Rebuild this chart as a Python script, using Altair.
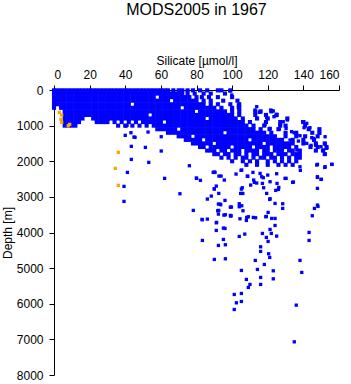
import altair as alt
import pandas as pd

# ---- tick values ----
x_ticks = [0, 20, 40, 60, 80, 100, 120, 140, 160]
y_ticks = [0, 1000, 2000, 3000, 4000, 5000, 6000, 7000, 8000]

# ---- dense cloud, read row by row (depth m -> silicate values) ----
dense_depth = [10, 100, 200, 300, 400, 500, 600, 700, 800, 900,
               1000, 1100, 1200, 1300, 1400, 1500, 1600, 1700, 1800, 1900, 2000, 2100]
dense_si = [
    [0, 2, 4, 6, 8, 10, 12, 14, 16, 18, 20, 22, 24, 26, 28, 30, 32, 34, 36, 38, 40, 42, 44, 46, 48, 50, 52, 54, 56, 58, 60, 62, 64, 67, 70, 72, 75, 78, 82, 86, 92, 94, 99],
    [0, 2, 4, 6, 8, 10, 12, 14, 16, 18, 20, 22, 24, 26, 28, 30, 32, 34, 36, 38, 40, 42, 44, 46, 48, 50, 52, 54, 56, 58, 60, 62, 64, 66, 68, 70, 72, 75, 79, 84, 88, 96],
    [0, 2, 4, 6, 8, 10, 12, 14, 16, 18, 20, 22, 24, 26, 28, 30, 32, 34, 36, 38, 40, 42, 44, 46, 48, 50, 52, 54, 56, 60, 62, 64, 66, 68, 70, 72, 74, 76, 80, 83, 87, 92, 100],
    [0, 2, 4, 6, 8, 10, 12, 14, 16, 18, 20, 22, 24, 26, 28, 30, 32, 34, 36, 38, 40, 42, 44, 46, 48, 50, 52, 54, 56, 58, 60, 62, 64, 68, 70, 72, 74, 76, 78, 80, 84, 88, 95, 103],
    [0, 2, 4, 6, 8, 10, 12, 14, 16, 18, 20, 22, 24, 26, 28, 30, 32, 34, 36, 38, 40, 42, 46, 48, 50, 52, 54, 56, 58, 60, 62, 64, 66, 68, 70, 72, 74, 76, 78, 80, 82, 84, 88, 92, 99, 104],
    [0, 4, 6, 8, 10, 12, 14, 16, 18, 20, 22, 24, 26, 28, 30, 32, 34, 36, 38, 40, 42, 44, 46, 48, 50, 52, 54, 56, 58, 60, 62, 64, 66, 68, 70, 74, 76, 78, 80, 82, 84, 86, 88, 90, 94, 100, 104],
    [6, 8, 10, 12, 14, 16, 18, 20, 22, 24, 26, 28, 30, 32, 34, 36, 38, 40, 42, 44, 46, 48, 50, 52, 54, 56, 58, 60, 62, 64, 66, 68, 70, 72, 74, 76, 78, 82, 84, 86, 88, 90, 92, 94, 96, 100, 104, 113, 116, 122],
    [6, 8, 10, 12, 14, 16, 18, 20, 22, 24, 26, 28, 30, 32, 34, 36, 38, 40, 42, 44, 46, 48, 50, 52, 56, 58, 60, 62, 64, 66, 68, 70, 72, 74, 76, 78, 80, 82, 84, 86, 88, 90, 92, 94, 96, 98, 100, 104, 113, 119, 125],
    [6, 8, 10, 12, 14, 16, 22, 24, 26, 28, 30, 32, 34, 36, 38, 40, 42, 44, 46, 48, 50, 52, 54, 56, 58, 60, 62, 64, 66, 68, 70, 72, 74, 76, 78, 80, 82, 84, 88, 90, 92, 94, 96, 98, 100, 102, 106, 114, 120, 131],
    [6, 8, 10, 12, 14, 24, 26, 28, 30, 34, 38, 42, 46, 50, 52, 54, 56, 58, 60, 64, 66, 68, 70, 72, 74, 76, 78, 80, 82, 84, 86, 88, 90, 92, 94, 96, 98, 100, 102, 104, 106, 110, 119, 127, 140],
    [6, 8, 10, 12, 36, 40, 44, 48, 52, 56, 58, 60, 62, 64, 66, 68, 70, 72, 74, 76, 78, 80, 82, 84, 86, 88, 90, 92, 94, 96, 98, 100, 102, 104, 106, 108, 112, 118, 127, 130, 141],
    [58, 60, 62, 64, 66, 68, 72, 74, 76, 78, 80, 82, 84, 86, 88, 90, 92, 94, 96, 98, 100, 102, 104, 106, 108, 110, 112, 116, 121, 126, 143, 149],
    [64, 66, 68, 70, 72, 74, 76, 78, 80, 82, 84, 86, 88, 90, 92, 94, 98, 100, 102, 104, 106, 108, 110, 112, 114, 116, 118, 122, 130, 136, 145, 149],
    [70, 72, 74, 76, 80, 82, 84, 86, 88, 90, 92, 94, 96, 98, 100, 102, 104, 106, 108, 110, 112, 114, 116, 118, 120, 122, 124, 130, 136, 141, 148],
    [74, 76, 78, 80, 82, 86, 88, 90, 92, 94, 96, 98, 100, 102, 104, 106, 108, 112, 114, 116, 118, 120, 122, 124, 126, 128, 134, 140, 146],
    [78, 80, 82, 84, 86, 88, 92, 94, 96, 98, 100, 102, 104, 106, 108, 110, 112, 114, 116, 120, 122, 124, 126, 128, 130, 132, 134, 140, 147, 152],
    [82, 84, 88, 90, 92, 94, 96, 98, 102, 104, 106, 108, 110, 114, 116, 118, 120, 124, 126, 128, 130, 132, 136, 144, 148, 153],
    [86, 88, 90, 94, 96, 100, 102, 104, 108, 110, 112, 114, 118, 120, 124, 126, 128, 132, 134, 138, 147, 151],
    [90, 92, 96, 98, 102, 104, 108, 112, 114, 118, 120, 122, 126, 128, 130, 134, 136, 138, 152],
    [94, 98, 102, 106, 108, 112, 116, 118, 122, 124, 128, 132, 136, 138],
    [100, 106, 110, 114, 120, 124, 128, 132, 136],
    [108, 114, 120, 126, 130, 134],
]

# ---- scattered blue points (silicate, depth) ----
sparse_si = [
    41, 40, 43.2, 44.9, 43.4, 51.3, 52.8, 60.2, 60.2, 43.4, 53.2, 41.2, 39.3, 62.1, 39.3, 70.7, 45.5, 40.4,
    82.2, 79.9, 76, 78.2, 86.1, 83.1, 90.4, 92.6, 91.1, 90, 92.5, 88.3, 86.1, 92.3, 92.5, 92.3,
    152.2, 144.3, 147.1, 149.9, 152.2, 156.1, 147.9, 152.2, 147.9, 149.9, 147.9, 147.9, 145, 138.1, 138.3,
    134, 130.3, 126, 125.2, 128.4, 128.4, 124.1, 120.2, 121.1, 117, 117.7, 120, 115.7, 117.5, 112.5, 110.4,
    105.7, 104.8, 104, 105.4, 99.6, 96, 93.2, 89.4, 93.8, 95.6, 102.2, 105, 108.5, 111.7, 125, 121.3,
    122.2, 124.1, 118.9, 111.9, 108.2, 104.4, 99.2,
    83.3, 91.3, 96.2, 99, 106.1, 108, 109.1, 113.2, 119.2, 124.1, 121.3, 119.2, 122, 125, 120.2, 117, 107.1,
    104, 95.1, 91.1, 83.3, 95.1, 92.3, 96.2, 90, 96.2, 116, 116, 120.5, 121.1, 113, 118.1, 114.2, 123.1,
    123.1, 116, 116, 110, 108, 105.2, 109.1, 105.2, 101.2, 102.4, 105.2, 101.2, 136, 134.9, 138.1, 139.1,
    143.2, 143.2,
    80.1, 90, 90, 93.6, 91.9, 91.1, 95.4, 99, 99.4, 96, 105.4, 108.8, 105.2, 106, 104, 112.1, 113.8, 116.6,
    119.4, 121.3, 124.5, 126.2, 129.7, 134.4, 147.9, 150.1, 146.2, 148.2, 147.5, 152, 155.9, 152.2, 143.7,
    149, 146.9, 151.4, 153.1, 145.6, 140, 141.9, 134.8, 136.3, 132.5, 131, 123.5, 125, 122.2, 115.7, 112.9,
    113.8, 136.3, 137.2,
    103.5, 99.8, 115.3, 119.4, 121.7, 124.6, 128.7, 126.9, 126.5, 130.3, 133.4, 135.9, 137.2, 139.6, 140.4,
    143.3, 144.7, 141.9, 138.1, 121.3, 123.1, 113.8, 118.5, 99.8, 98.8, 103.5,
]
sparse_depth = [
    993, 1273, 1199, 1320, 1582, 1611, 1180, 1311, 1713, 1948, 2032, 2313, 2706, 2481, 3127, 2912, 1330, 1011,
    2537, 2472, 2126, 3380, 3624, 3633, 2313, 2416, 2697, 2781, 2903, 2978, 3062, 3202, 3380, 3483,
    1517, 1554, 1554, 1592, 1806, 2087, 2087, 2154, 2434, 2509, 2762, 3230, 3530, 2154, 2256,
    2593, 2481, 2790, 2622, 3193, 3324, 3184, 3436, 3071, 2622, 2744, 2388, 2341, 2463, 2593, 2669,
    2744, 2903, 3193, 3249, 3287, 3099, 3202, 2313, 2416, 2528, 2360, 2256, 2416, 2313, 2350, 2575,
    3605, 3605, 3558, 3577, 3577, 3615, 3539,
    3642, 3717, 3502, 3521, 3390, 3661, 3558, 3586, 3549, 3802, 3914, 4138, 4026, 4101, 4251, 4026, 4045,
    4110, 3876, 3942, 4223, 4195, 4363, 4344, 4756, 4738, 4401, 4531, 4597, 4700, 4784, 4897, 5037, 5075,
    5300, 5261, 5458, 5458, 5318, 5065, 5542, 5711, 5739, 5973, 5936, 6161, 6039, 7069, 4784, 5121,
    3998, 4223,
    2481, 2303, 2772, 3221, 3390, 3727, 3511, 3287, 3530, 3886, 2247, 2425, 2781, 2903, 3277, 2528, 2612, 2434,
    2903, 3052, 2818, 2734, 2481, 2584, 2453, 2509, 3324, 3268, 2107, 2172, 2088, 1311, 1058,
    1217, 1545, 1685, 1638, 1358, 890, 936, 1199, 1264, 1404, 843, 749, 683, 590, 627, 562,
    468, 1685, 1872,
    496, 515, 627, 768, 562, 721, 890, 965, 1096, 1077, 1170, 1217, 1433, 890, 1058,
    1077, 1339, 1498, 1283, 1077, 590, 796, 965, 140, 28, 421,
]

# ---- orange points ----
orange_si = [3.0, 4.3, 3.9, 4.3, 8.0, 8.8, 36.1, 34.4, 36.1]
orange_depth = [627, 702, 824, 908, 1002, 964, 1750, 2200, 2677]

dense_rows = []
for d, sis in zip(dense_depth, dense_si):
    for s in sis:
        dense_rows.append({"si": s, "depth": d, "grp": "b"})
dense_df = pd.DataFrame(dense_rows)
sparse_df = pd.DataFrame({"si": sparse_si, "depth": sparse_depth, "grp": "b"})
orange_df = pd.DataFrame({"si": orange_si, "depth": orange_depth, "grp": "o"})

FONT = "Liberation Sans"

xenc = alt.X("si:Q",
             scale=alt.Scale(domain=[0, 160], nice=False, zero=False),
             axis=alt.Axis(orient="top", values=x_ticks, title="Silicate [µmol/l]", format="d",
                           labelPadding=4, titleX=142.5, titleY=-25.5,
                           titleBaseline="alphabetic", titleAlign="center"))
yenc = alt.Y("depth:Q",
             scale=alt.Scale(domain=[0, 8000], nice=False, reverse=True),
             axis=alt.Axis(values=y_ticks, title="Depth [m]", labelPadding=6, format="d",
                           titleX=-43, titleY=142.5, titleAngle=270,
                           titleBaseline="alphabetic", titleAlign="center"))
cenc = alt.Color("grp:N", scale=alt.Scale(domain=["b", "o"], range=["#0000ff", "#ffa500"]),
                 legend=None)

dense = alt.Chart(dense_df).mark_square(size=17, opacity=1, filled=True).encode(
    x=xenc, y=yenc, color=cenc)
sparse = alt.Chart(sparse_df).mark_square(size=11, opacity=1, filled=True).encode(
    x=xenc, y=yenc, color=cenc)
orange = alt.Chart(orange_df).mark_square(size=11, opacity=1, filled=True).encode(
    x=xenc, y=yenc, color=cenc)

chart = alt.layer(dense, sparse, orange).properties(
    width=285, height=285,
    autosize=alt.AutoSizeParams(type="none"),
    padding={"left": 54, "top": 90, "right": 12, "bottom": 9},
    background="white",
    title=alt.Title("MODS2005 in 1967", fontSize=16, font=FONT, fontWeight="normal",
                    color="black", offset=37),
).configure_view(stroke=None).configure_axis(
    grid=False, domainColor="black", tickColor="black", tickSize=5, domainWidth=1, tickWidth=1,
    labelFont=FONT, labelFontSize=12, labelColor="black",
    titleFont=FONT, titleFontSize=12, titleFontWeight="normal", titleColor="black",
)

chart.save("out.html", embed_options={"renderer": "svg", "actions": False})
